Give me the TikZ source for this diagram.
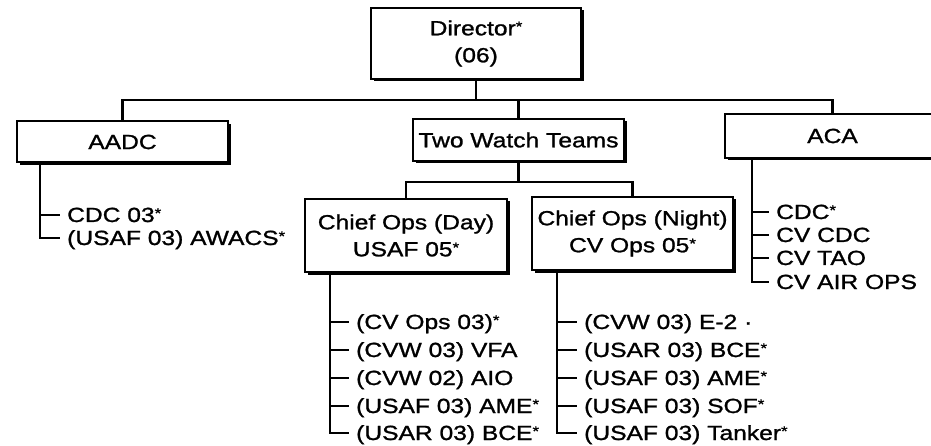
\documentclass[tikz,border=0pt]{standalone}
\usepackage{fontspec}
\setmainfont{Liberation Sans}[FakeStretch=1.2,FakeBold=1.2]
\usetikzlibrary{shadows}
\newcommand\sx{\raisebox{4pt}{\fontsize{14pt}{14pt}\selectfont *}}
\begin{document}
\begin{tikzpicture}[x=1pt,y=-1pt,
  font=\fontsize{20.5pt}{27pt}\selectfont,
  box/.style={draw, line width=2pt, fill=white, inner sep=0pt, align=center,
    drop shadow={shadow xshift=2.5pt, shadow yshift=-2.5pt, fill=black, opacity=1}},
  conn/.style={line width=2.2pt},
  item/.style={anchor=west, inner xsep=7pt, inner ysep=0pt, text height=14pt, text depth=0pt}]
\useasboundingbox (0,0) rectangle (931,446);
\clip (0,0) rectangle (931,446);

% boxes
\node[box, minimum width=210pt, minimum height=71pt] (dir) at (476,43.5) {Director\sx\\(06)};
\node[box, minimum width=211pt, minimum height=41pt] (aadc) at (122.5,142) {AADC};
\node[box, minimum width=211pt, minimum height=42pt] (twt) at (518.5,140) {Two Watch Teams};
\node[box, minimum width=215pt, minimum height=44pt] (aca) at (832.5,136) {ACA};
\node[box, minimum width=202pt, minimum height=73pt] (day) at (406,235.5) {Chief Ops (Day)\\USAF 05\sx};
\node[box, minimum width=201pt, minimum height=73pt] (night) at (632.5,233.5) {Chief Ops (Night)\\CV Ops 05\sx};

% buses
\coordinate (bus) at (0,100);
\coordinate (bus2) at (0,182);
\draw[conn] (dir.south) -- (dir.south |- bus);
\draw[conn] (aadc.north) -- (aadc.north |- bus) -- (aca.north |- bus) -- (aca.north);
\draw[conn] (twt.north) -- (twt.north |- bus);
\draw[conn] (twt.south) -- (twt.south |- bus2);
\draw[conn] (day.north) -- (day.north |- bus2) -- (night.north |- bus2) -- (night.north);

% spines
\coordinate (sA) at (40,0);
\coordinate (sD) at (330,0);
\coordinate (sN) at (557,0);
\coordinate (sC) at (752,0);

% AADC list
\node[item] (a1) at (60,215) {CDC 03\sx};
\node[item] (a2) at (60,238) {(USAF 03) AWACS\sx};
\draw[conn] (a1.west -| sA) -- (a1.west);
\draw[conn] (aadc.south -| sA) |- (a2.west);

% Day list
\node[item] (d1) at (349,322) {(CV Ops 03)\sx};
\node[item] (d2) at (349,350) {(CVW 03) VFA};
\node[item] (d3) at (349,378) {(CVW 02) AIO};
\node[item] (d4) at (349,406) {(USAF 03) AME\sx};
\node[item] (d5) at (349,433) {(USAR 03) BCE\sx};
\foreach \n in {d1,d2,d3,d4} \draw[conn] (\n.west -| sD) -- (\n.west);
\draw[conn] (day.south -| sD) |- (d5.west);

% Night list
\node[item] (n1) at (577,322) {(CVW 03) E-2 ·};
\node[item] (n2) at (577,350) {(USAR 03) BCE\sx};
\node[item] (n3) at (577,378) {(USAF 03) AME\sx};
\node[item] (n4) at (577,406) {(USAF 03) SOF\sx};
\node[item] (n5) at (577,433) {(USAF 03) Tanker\sx};
\foreach \n in {n1,n2,n3,n4} \draw[conn] (\n.west -| sN) -- (\n.west);
\draw[conn] (night.south -| sN) |- (n5.west);

% ACA list
\node[item] (c1) at (769,212) {CDC\sx};
\node[item] (c2) at (769,235) {CV CDC};
\node[item] (c3) at (769,258) {CV TAO};
\node[item] (c4) at (769,282) {CV AIR OPS};
\foreach \n in {c1,c2,c3} \draw[conn] (\n.west -| sC) -- (\n.west);
\draw[conn] (aca.south -| sC) |- (c4.west);
\end{tikzpicture}
\end{document}
